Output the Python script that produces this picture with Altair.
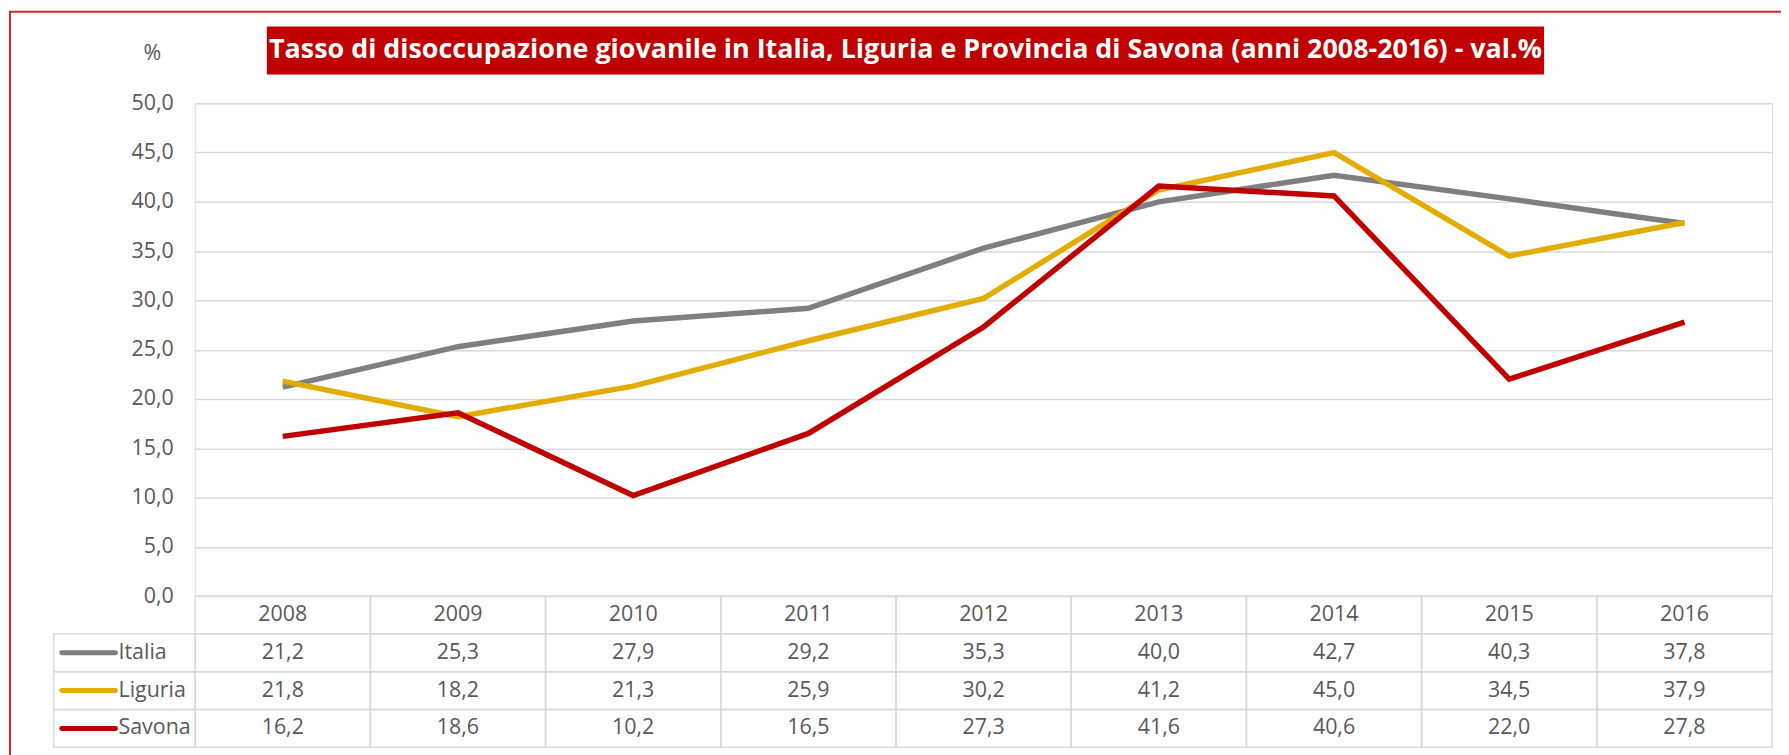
import altair as alt
import pandas as pd

years = ["2008", "2009", "2010", "2011", "2012", "2013", "2014", "2015", "2016"]
italia = [21.2, 25.3, 27.9, 29.2, 35.3, 40.0, 42.7, 40.3, 37.8]
liguria = [21.8, 18.2, 21.3, 25.9, 30.2, 41.2, 45.0, 34.5, 37.9]
savona = [16.2, 18.6, 10.2, 16.5, 27.3, 41.6, 40.6, 22.0, 27.8]
series_names = ["Italia", "Liguria", "Savona"]
series_colors = ["#7f7f7f", "#e2ac00", "#c00000"]
y_ticks = [0, 5, 10, 15, 20, 25, 30, 35, 40, 45, 50]
title_text = "Tasso di disoccupazione giovanile in Italia, Liguria e Provincia di Savona (anni 2008-2016) - val.%"
unit_text = "%"

FONT = "Open Sans"
GRAY_TXT = "#595959"
GRID = "#d9d9d9"
FS = 21.5

W, H = 1584, 495
rows = ["hdr"] + series_names

rec = []
for name, vals in zip(series_names, [italia, liguria, savona]):
    for y, v in zip(years, vals):
        rec.append({"year": y, "series": name, "value": v})
df = pd.DataFrame(rec)
hdr = pd.DataFrame({"year": years, "row": "hdr"})
cells = pd.concat([hdr, df.rename(columns={"series": "row"})[["year", "row"]]])
leg = pd.DataFrame({"row": series_names})

xs = alt.Scale(type="band", domain=years, paddingInner=0, paddingOuter=0)
ys_tab = alt.Scale(type="band", domain=rows, range=[H, H + 152], paddingInner=0, paddingOuter=0)
cscale = alt.Scale(domain=series_names, range=series_colors)

lines = alt.Chart(df).mark_line(strokeWidth=5.5, strokeJoin="miter").encode(
    x=alt.X("year:O", scale=xs, axis=None, bandPosition=0.5),
    y=alt.Y("value:Q", scale=alt.Scale(domain=[0, 50], nice=False, zero=True),
            axis=alt.Axis(values=y_ticks, title=None, domain=False, ticks=False,
                          labelExpr="replace(format(datum.value, '.1f'), '.', ',')",
                          labelFontSize=FS, labelFont=FONT, labelColor=GRAY_TXT,
                          labelPadding=22, grid=True, gridColor=GRID, gridWidth=1.5)),
    color=alt.Color("series:N", scale=cscale, legend=None),
    order=alt.Order("series:N"),
)

table_cells = alt.Chart(cells).mark_rect(fill="white", fillOpacity=0, stroke=GRID, strokeWidth=1.5).encode(
    x=alt.X("year:O", scale=xs, axis=None),
    y=alt.Y("row:N", scale=ys_tab, axis=None),
)

leg_cells = alt.Chart(leg).mark_rect(fill="white", fillOpacity=0, stroke=GRID, strokeWidth=1.5).encode(
    x=alt.value(-142), x2=alt.value(0),
    y=alt.Y("row:N", scale=ys_tab, axis=None),
)

leg_lines = alt.Chart(leg).mark_rule(strokeWidth=5, strokeCap="round").encode(
    x=alt.value(-134), x2=alt.value(-80),
    y=alt.Y("row:N", scale=ys_tab, axis=None, bandPosition=0.5),
    color=alt.Color("row:N", scale=cscale, legend=None),
)

leg_text = alt.Chart(leg).mark_text(align="left", baseline="middle", font=FONT, fontSize=FS, color=GRAY_TXT).encode(
    x=alt.value(-77),
    y=alt.Y("row:N", scale=ys_tab, axis=None, bandPosition=0.5),
    text="row:N",
)

hdr_text = alt.Chart(hdr).mark_text(align="center", baseline="middle", font=FONT, fontSize=FS, color=GRAY_TXT).encode(
    x=alt.X("year:O", scale=xs, axis=None, bandPosition=0.5),
    y=alt.Y("row:N", scale=ys_tab, axis=None, bandPosition=0.5),
    text="year:N",
)

val_text = alt.Chart(df).transform_calculate(
    lab="replace(format(datum.value, '.1f'), '.', ',')"
).mark_text(align="center", baseline="middle", font=FONT, fontSize=FS, color=GRAY_TXT).encode(
    x=alt.X("year:O", scale=xs, axis=None, bandPosition=0.5),
    y=alt.Y("series:N", scale=ys_tab, axis=None, bandPosition=0.5),
    text="lab:N",
)

deco = pd.DataFrame({"t": [title_text]})
frame = alt.Chart(deco).mark_rect(fill="white", fillOpacity=0, stroke="#d42a2a", strokeWidth=2).encode(
    x=alt.value(-186), x2=alt.value(2000), y=alt.value(-92), y2=alt.value(1000),
)
title_box = alt.Chart(deco).mark_rect(color="#c00000").encode(
    x=alt.value(72), x2=alt.value(1355), y=alt.value(-77), y2=alt.value(-29),
)
title = alt.Chart(deco).mark_text(align="center", baseline="middle", font=FONT, fontSize=27,
                                  fontWeight="bold", color="white").encode(
    x=alt.value(713.5), y=alt.value(-53), text="t:N",
)
unit = alt.Chart(pd.DataFrame({"t": [unit_text]})).mark_text(
    align="center", baseline="middle", font=FONT, fontSize=FS, color=GRAY_TXT).encode(
    x=alt.value(-43), y=alt.value(-49), text="t:N",
)

chart = alt.layer(
    frame, lines, table_cells, leg_cells, leg_lines, leg_text, hdr_text, val_text, title_box, title, unit
).resolve_scale(y="independent", color="shared").properties(
    width=W, height=H,
    padding={"left": 188, "top": 94, "right": 9, "bottom": 158},
    autosize=alt.AutoSizeParams(type="none"),
).configure_view(stroke="transparent").configure(background="white")

chart.save("out.html", embed_options={"renderer": "svg", "actions": False})
